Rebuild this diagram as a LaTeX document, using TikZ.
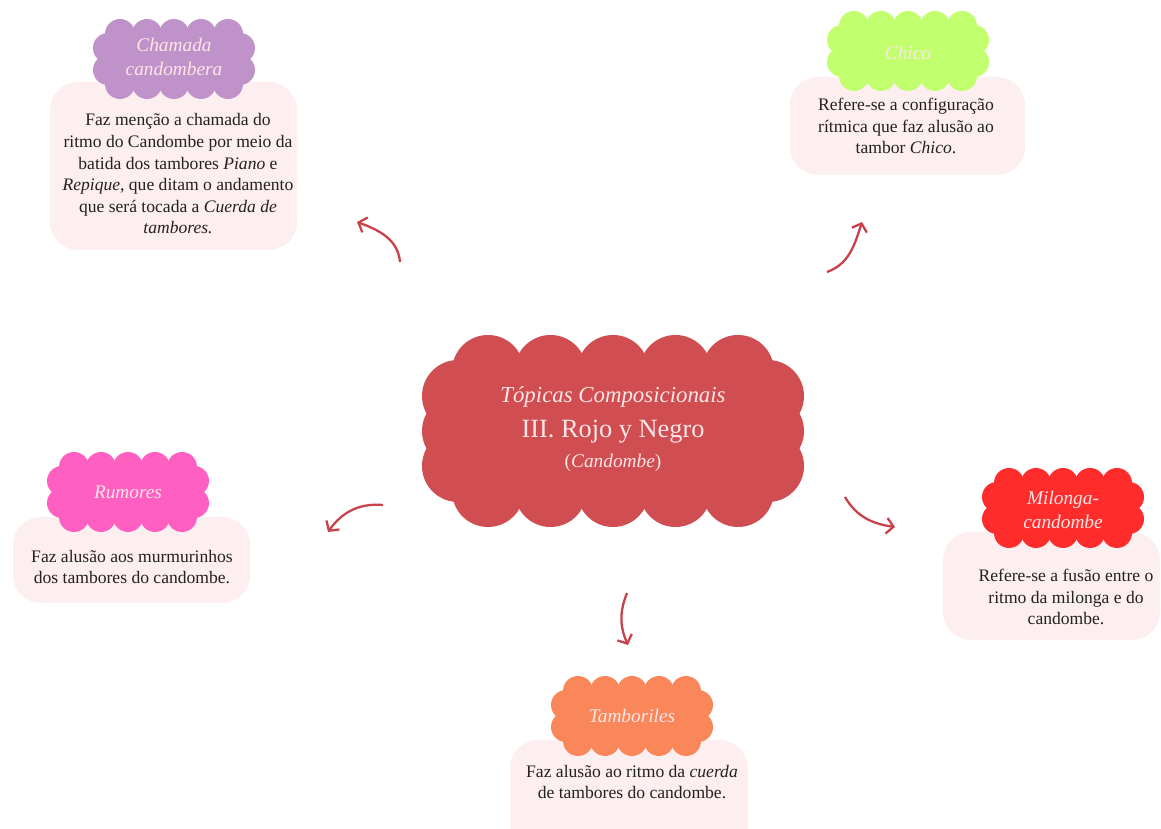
\documentclass[tikz,border=0pt]{standalone}
\usepackage{fontspec}
\setmainfont{Liberation Serif}
\usepackage{xcolor}
\usetikzlibrary{arrows.meta}
\definecolor{RNMain}{HTML}{D04E52}
\definecolor{RNLilac}{HTML}{C092CA}
\definecolor{RNLime}{HTML}{C1FF6E}
\definecolor{RNPink}{HTML}{FF5FC0}
\definecolor{RNRed}{HTML}{FF2C2C}
\definecolor{RNOrange}{HTML}{FA875A}
\definecolor{RNBox}{HTML}{FDEEEF}
\definecolor{RNArrow}{HTML}{C9414B}
\definecolor{RNInk}{HTML}{222222}
\definecolor{RNPale}{HTML}{FCE6E6}
\newcommand{\puffs}[8]{%
\fill[#1] (-#2,#3) -- (#2,#3) -- (#4,#5) -- (#4,-#5) -- (#2,-#3) -- (-#2,-#3) -- (-#4,-#5) -- (-#4,#5) -- cycle;
\foreach \i in {0,...,#7} {
\fill[#1] ({-#2+\i*2*#2/#7},#3) circle (#6);
\fill[#1] ({-#2+\i*2*#2/#7},-#3) circle (#6);
}
\foreach \j in {0,...,#8} {
\fill[#1] (-#4,{-#5+\j*2*#5/#8}) circle (#6);
\fill[#1] (#4,{-#5+\j*2*#5/#8}) circle (#6);
}}
\newcommand{\smallpuffs}[1]{\puffs{#1}{54}{25}{66}{11}{15}{4}{1}}
\tikzset{
desc/.style={align=center,text=RNInk,font=\fontsize{10}{12.3}\selectfont},
cloudtxt/.style={align=center,text=RNPale,font=\fontsize{11}{14}\selectfont\itshape},
boxfill/.style={fill=RNBox,rounded corners=16pt},
topicarrow/.style={RNArrow,line width=1.3pt,-{Straight Barb[length=4pt,width=9pt]}}
}

\begin{document}
\begin{tikzpicture}[x=0.02cm,y=0.02cm]
\useasboundingbox (0,0) rectangle (1161,829);
\fill[white] (0,0) rectangle (1161,829);
\clip (0,0) rectangle (1161,829);
\fill[boxfill] (50,579) rectangle (297,747);
\fill[boxfill] (790,654) rectangle (1025,752);
\fill[boxfill] (13,226) rectangle (250,312);
\fill[boxfill] (943,189) rectangle (1160,297);
\fill[boxfill] (510,-30) rectangle (748,89);
\begin{scope}[shift={(613,398)}]
\puffs{RNMain}{125}{60}{155}{35}{36}{4}{2}
\end{scope}
\begin{scope}[shift={(174,770)}]
\smallpuffs{RNLilac}
\end{scope}
\begin{scope}[shift={(908,778)}]
\smallpuffs{RNLime}
\end{scope}
\begin{scope}[shift={(128,337)}]
\smallpuffs{RNPink}
\end{scope}
\begin{scope}[shift={(1063,321)}]
\smallpuffs{RNRed}
\end{scope}
\begin{scope}[shift={(632,113)}]
\smallpuffs{RNOrange}
\end{scope}
\node[align=center,text=RNPale,font=\fontsize{13}{18}\selectfont] (topicas) at (613,400)
{{\itshape Tópicas Composicionais}\\[2pt]
{\fontsize{15}{17}\selectfont III. Rojo y Negro}\\[-1pt]
{\fontsize{11}{14}\selectfont (\textit{Candombe})}};
\node[cloudtxt] (chamada) at (174,772) {Chamada\\candombera};
\node[cloudtxt] (chico) at (908,776) {Chico};
\node[cloudtxt] (rumores) at (128,337) {Rumores};
\node[cloudtxt] (milonga) at (1063,319) {Milonga-\\candombe};
\node[cloudtxt] (tamboriles) at (632,113) {Tamboriles};
\node[desc] (chamadaTxt) at (178,655) {Faz menção a chamada do\\
ritmo do Candombe por meio da\\
batida dos tambores \textit{Piano} e\\
\textit{Repique}, que ditam o andamento\\
que será tocada a \textit{Cuerda de}\\
\textit{tambores.}};
\node[desc] (chicoTxt) at (906,703) {Refere-se a configuração\\
rítmica que faz alusão ao\\
tambor \textit{Chico}.};
\node[desc] (rumoresTxt) at (132,262) {Faz alusão aos murmurinhos\\
dos tambores do candombe.};
\node[desc] (milongaTxt) at (1066,232) {Refere-se a fusão entre o\\
ritmo da milonga e do\\
candombe.};
\node[desc] (tamborilesTxt) at (632,47) {Faz alusão ao ritmo da \textit{cuerda}\\
de tambores do candombe.};
\coordinate (a1s) at (400,567);
\coordinate (a1e) at (357,607);
\coordinate (a2s) at (827,557);
\coordinate (a2e) at (862,607);
\coordinate (a3s) at (383,324);
\coordinate (a3e) at (328,297);
\coordinate (a4s) at (845,332);
\coordinate (a4e) at (895,302);
\coordinate (a5s) at (627,236);
\coordinate (a5e) at (628,184);
\draw[topicarrow] (a1s) to[out=95,in=-20] (a1e);
\draw[topicarrow] (a2s) to[out=20,in=-108] (a2e);
\draw[topicarrow] (a3s) to[out=175,in=55] (a3e);
\draw[topicarrow] (a4s) to[out=-60,in=172] (a4e);
\draw[topicarrow] (a5s) to[out=248,in=114] (a5e);
\end{tikzpicture}
\end{document}
